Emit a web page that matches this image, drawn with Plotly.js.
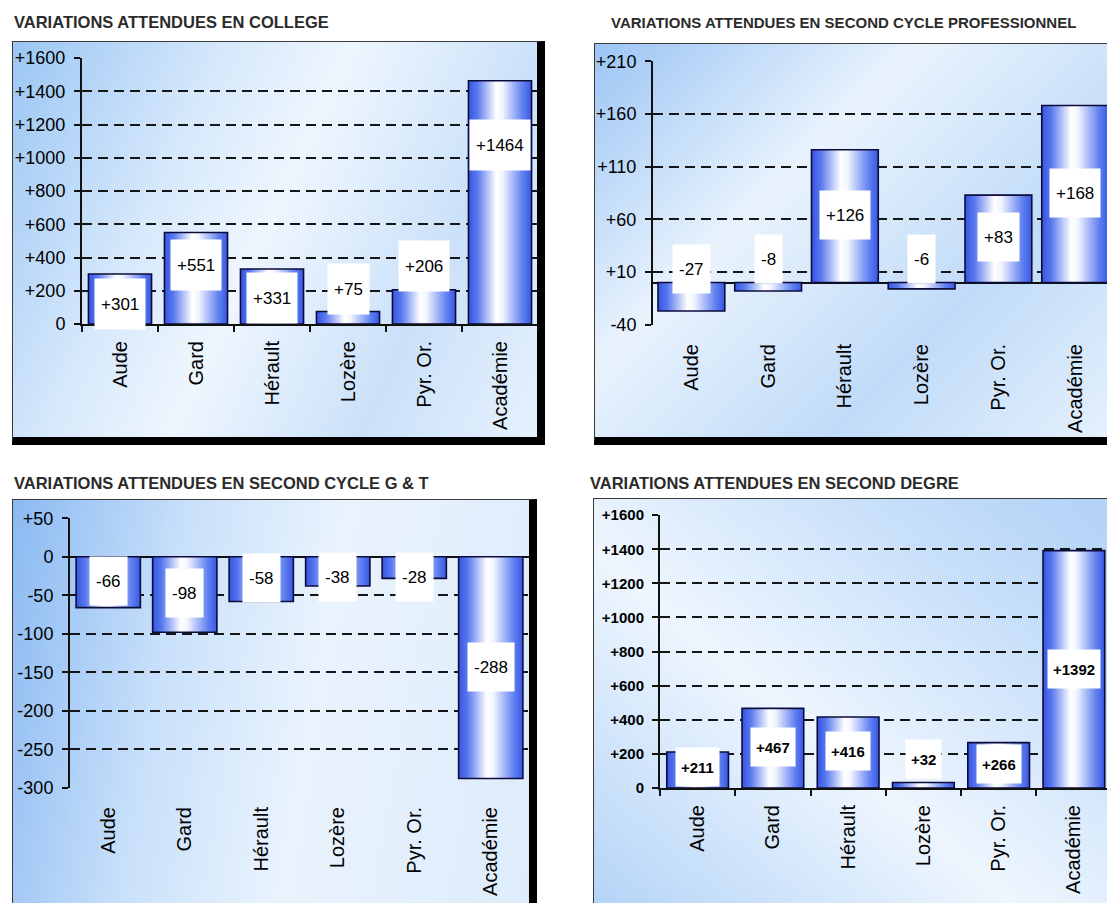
<!DOCTYPE html>
<html>
<head>
<meta charset="utf-8">
<script src="https://cdn.plot.ly/plotly-3.0.1.min.js"></script>
<style>
  html, body { margin:0; padding:0; background:#fff; width:1107px; height:903px; overflow:hidden; }
  .frame { position:absolute; box-sizing:border-box; border:1px solid #3a3a3a; z-index:0; }
  #f1 { left:12px; top:41px; width:533px; height:404px; border-right:8px solid #000; border-bottom:8px solid #000;
        background:linear-gradient(115deg, #9ac6f4 0%, #d6e8fb 30%, #eef6fe 48%, #cbe1f9 75%, #e6f1fd 100%); }
  #f2 { left:594px; top:43px; width:620px; height:402px; border-bottom:8px solid #000;
        background:linear-gradient(135deg, #9cc5f4 0%, #e9f3fd 32%, #c0dbf8 62%, #f2f8fe 100%); }
  #f3 { left:12px; top:499px; width:525px; height:520px; border-right:8px solid #000;
        background:linear-gradient(100deg, #8bbaf2 0%, #cae1fa 30%, #e9f3fd 55%, #dcebfb 100%); }
  #f4 { left:593px; top:498px; width:620px; height:520px;
        background:linear-gradient(40deg, #a2c9f5 0%, #eef6fe 45%, #c4ddf9 75%, #a8ccf5 100%); }
  #chart { position:absolute; left:0; top:0; width:1107px; height:903px; z-index:1; }
</style>
</head>
<body>
<svg width="0" height="0" style="position:absolute;left:0;top:0">
  <defs>
    <linearGradient id="barGrad" x1="0" y1="0" x2="1" y2="0">
      <stop offset="0%" stop-color="#3555e2"/>
      <stop offset="14%" stop-color="#5878ee"/>
      <stop offset="44%" stop-color="#ffffff"/>
      <stop offset="54%" stop-color="#f2f5ff"/>
      <stop offset="86%" stop-color="#6080f0"/>
      <stop offset="100%" stop-color="#3858e4"/>
    </linearGradient>
  </defs>
</svg>
<div class="frame" id="f1"></div>
<div class="frame" id="f2"></div>
<div class="frame" id="f3"></div>
<div class="frame" id="f4"></div>
<div id="chart"></div>
<script>
// ---------- DATA ----------
const categories = ['Aude', 'Gard', 'Hérault', 'Lozère', 'Pyr. Or.', 'Académie'];

const college      = [301, 551, 331, 75, 206, 1464];
const professionel = [-27, -8, 126, -6, 83, 168];
const generalTech  = [-66, -98, -58, -38, -28, -288];
const secondDegre  = [211, 467, 416, 32, 266, 1392];

const titles = [
  'VARIATIONS ATTENDUES EN COLLEGE',
  'VARIATIONS ATTENDUES EN SECOND CYCLE PROFESSIONNEL',
  'VARIATIONS ATTENDUES EN SECOND CYCLE G & T',
  'VARIATIONS ATTENDUES EN SECOND DEGRE'
];

const collegeTicks = [0, 200, 400, 600, 800, 1000, 1200, 1400, 1600];
const proTicks     = [-40, 10, 60, 110, 160, 210];
const gtTicks      = [-300, -250, -200, -150, -100, -50, 0, 50];
const secondTicks  = [0, 200, 400, 600, 800, 1000, 1200, 1400, 1600];

// label anchor heights (placement of the value boxes, in axis units)
const collegeLabelAt = [120, 355, 156, 210, 349, 1077];
const proLabelAt     = [13, 22, 64, 22, 43, 85];
const gtLabelAt      = [-31, -47, -28, -26, -26, -143];
const secondLabelAt  = [125, 242, 217, 170, 141, 698];

// ---------- HELPERS ----------
const W = 1107, H = 903;
const px = v => v / W;
const py = v => 1 - v / H;
const signed = v => (v > 0 ? '+' + v : String(v));
const FONT = 'Arial, "Liberation Sans", sans-serif';

function barTrace(vals, xa, ya, width) {
  return {
    type: 'bar', x: categories, y: vals,
    xaxis: xa, yaxis: ya, width: width,
    marker: { color: '#4a6ae8', line: { color: '#0c0c3c', width: 1.6 } },
    hoverinfo: 'skip', showlegend: false
  };
}
function yAxis(anchor, domain, range, ticks, fontSize, bold, zero) {
  return {
    anchor: anchor, domain: domain, range: range,
    tickmode: 'array', tickvals: ticks, ticktext: ticks.map(v => v === 0 ? '0' : signed(v)),
    tickfont: { family: FONT, size: fontSize, color: '#000', weight: bold ? 'bold' : 'normal' },
    showline: true, linecolor: '#111', linewidth: 2,
    ticks: 'outside', ticklen: 6, tickwidth: 2, tickcolor: '#111',
    ticklabelstandoff: 5,
    showgrid: true, gridcolor: '#151515', gridwidth: 2, griddash: '10px,6px',
    zeroline: zero, zerolinecolor: '#111', zerolinewidth: 2,
    fixedrange: true
  };
}
function xAxis(anchor, domain, range, line) {
  return {
    anchor: anchor, domain: domain, range: range, type: 'category',
    tickangle: -90,
    tickfont: { family: FONT, size: 20, color: '#000' },
    showline: line, linecolor: '#111', linewidth: 2,
    ticks: line ? 'outside' : '', ticklen: 6, tickwidth: 2, tickcolor: '#111',
    tickson: 'boundaries',
    ticklabelstandoff: line ? 7 : 14,
    showgrid: false, zeroline: false, fixedrange: true
  };
}
function labels(vals, at, xa, ya, size, bold, h, pad) {
  return vals.map((v, i) => ({
    xref: xa, yref: ya, x: categories[i], y: at[i],
    text: signed(v), showarrow: false,
    font: { family: FONT, size: size, color: '#000', weight: bold ? 'bold' : 'normal' },
    bgcolor: '#ffffff', borderpad: pad, height: h, valign: 'middle'
  }));
}

const traces = [
  barTrace(college, 'x', 'y', 0.83),
  barTrace(professionel, 'x2', 'y2', 0.87),
  barTrace(generalTech, 'x3', 'y3', 0.84),
  barTrace(secondDegre, 'x4', 'y4', 0.82)
];

const titlePos = [[12, 22, 16.5], [609, 22, 15], [12, 483, 16.5], [588, 483, 16.5]];
const titleAnn = titlePos.map((p, i) => ({
  xref: 'paper', yref: 'paper', x: px(p[0]), y: py(p[1]),
  xanchor: 'left', yanchor: 'middle', showarrow: false,
  text: titles[i],
  font: { family: FONT, size: p[2], color: '#2b2b2b', weight: 'bold' }
}));

const layout = {
  width: W, height: H,
  margin: { l: 0, r: 0, t: 0, b: 0 },
  paper_bgcolor: 'rgba(0,0,0,0)', plot_bgcolor: 'rgba(0,0,0,0)',
  showlegend: false,
  xaxis:  xAxis('y',  [px(82), px(538)], [-0.5, 5.5], true),
  yaxis:  yAxis('x',  [py(324), py(58)], [0, 1601], collegeTicks, 18, false, false),
  xaxis2: xAxis('y2', [px(653), 1], [-0.5, 5.415], false),
  yaxis2: yAxis('x2', [py(325), py(61)], [-40.3, 210.3], proTicks, 18, false, true),
  xaxis3: xAxis('y3', [px(70), px(529)], [-0.5, 5.5], false),
  yaxis3: yAxis('x3', [py(788), py(518)], [-300.4, 50.4], gtTicks, 18, false, true),
  xaxis4: xAxis('y4', [px(660), 1], [-0.5, 5.44], true),
  yaxis4: yAxis('x4', [py(788), py(515)], [0, 1601], secondTicks, 15, true, false),
  annotations: [].concat(
    titleAnn,
    labels(college, collegeLabelAt, 'x', 'y', 17, false, 38, 6),
    labels(professionel, proLabelAt, 'x2', 'y2', 17, false, 36, 6),
    labels(generalTech, gtLabelAt, 'x3', 'y3', 17, false, 36, 6),
    labels(secondDegre, secondLabelAt, 'x4', 'y4', 15, true, 28, 5)
  )
};

Plotly.newPlot('chart', traces, layout, { staticPlot: true, displayModeBar: false }).then(() => {
  document.querySelectorAll('#chart g.trace.bars path').forEach(p => {
    p.style.setProperty('fill', 'url(#barGrad)');
    p.style.setProperty('fill-opacity', '1');
  });
});
</script>
</body>
</html>
